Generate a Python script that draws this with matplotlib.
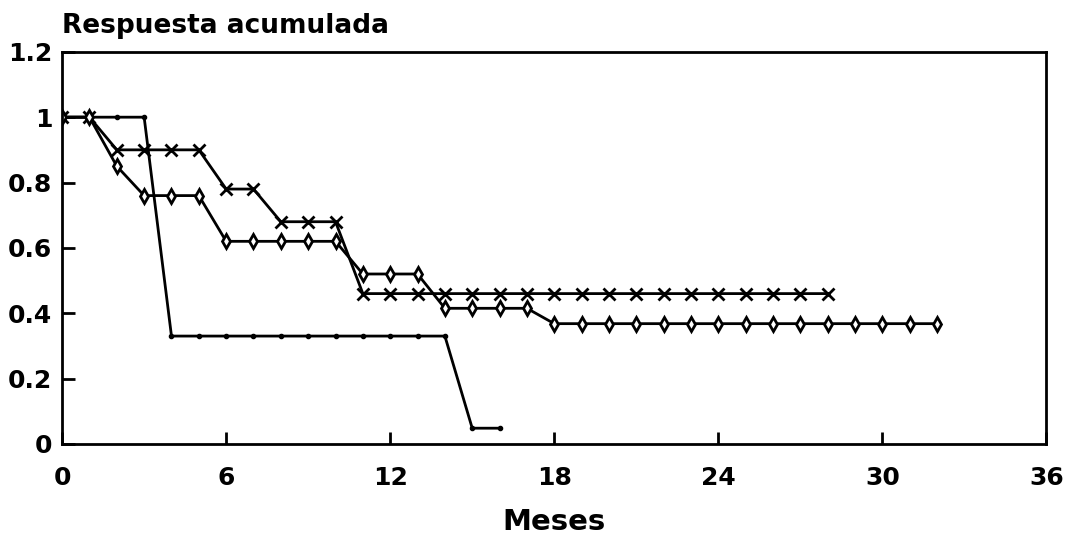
import matplotlib
matplotlib.use("Agg")
from matplotlib import pyplot as plt

plt.rcParams['font.family'] = ['DejaVu Sans']
plt.rcParams['font.weight'] = 'bold'

# months and accumulated response for each group
meses_x = list(range(0, 29))
resp_x = [1, 1, 0.9, 0.9, 0.9, 0.9, 0.78, 0.78, 0.68, 0.68, 0.68] + [0.46] * 18

meses_d = list(range(0, 33))
resp_d = [1, 1, 0.85, 0.76, 0.76, 0.76, 0.62, 0.62, 0.62, 0.62, 0.62,
          0.52, 0.52, 0.52, 0.415, 0.415, 0.415, 0.415] + [0.368] * 15

meses_p = list(range(0, 17))
resp_p = [1, 1, 1, 1] + [0.33] * 11 + [0.048, 0.048]

xticks = [0, 6, 12, 18, 24, 30, 36]
yticks = [0, 0.2, 0.4, 0.6, 0.8, 1, 1.2]
ytick_labels = ['0', '0.2', '0.4', '0.6', '0.8', '1', '1.2']

fig = plt.figure(figsize=(10.71, 5.4), dpi=100)
ax = fig.add_axes([0.058, 0.178, 0.919, 0.726])

ax.plot(meses_p, resp_p, color='black', lw=2, marker='o', ms=3)
ax.plot(meses_x, resp_x, color='black', lw=2, marker='x', ms=9, mew=2)
ax.plot(meses_d, resp_d, color='black', lw=2, marker='d', ms=7,
        mfc='white', mew=2)

ax.set_xlim(0, 36)
ax.set_ylim(0, 1.2)
ax.set_xticks(xticks)
ax.set_yticks(yticks)
ax.set_yticklabels(ytick_labels)
ax.tick_params(direction='in', length=9, width=2, labelsize=18)
ax.tick_params(axis='x', pad=16)
ax.tick_params(axis='y', pad=7)
for s in ax.spines.values():
    s.set_linewidth(2)

ax.set_xlabel('Meses', fontsize=21, fontweight='bold', labelpad=13)
fig.text(0.058, 0.928, 'Respuesta acumulada', fontsize=19, fontweight='bold',
         ha='left', va='bottom')

fig.savefig('out.png', dpi=100)
